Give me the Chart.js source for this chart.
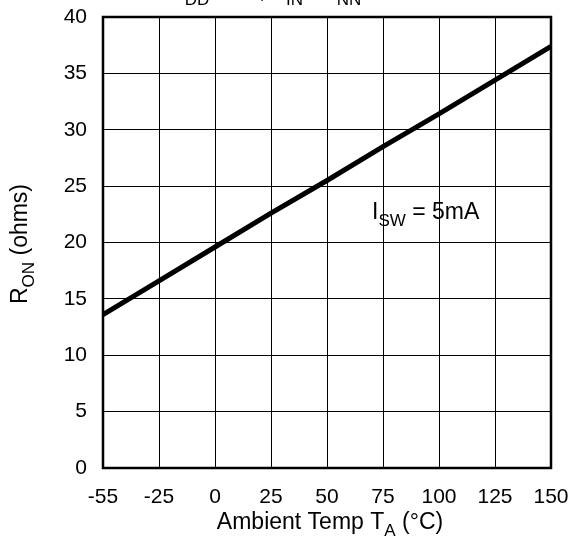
<!DOCTYPE html>
<html lang="en">
<head>
    <meta charset="UTF-8">
    <title>RON vs Temperature</title>
    <script src="https://cdn.jsdelivr.net/npm/chart.js"></script>
    <style>
        body { margin: 0; background: #fff; }
        #wrap { width: 576px; height: 544px; }
    </style>
</head>
<body>
<div id="wrap"><canvas id="ronChart" width="576" height="544"></canvas></div>

<script>
    // data
    const tempLabels = ['-55', '-25', '0', '25', '50', '75', '100', '125', '150'];
    const ronValues = [13.6, 16.6, 19.6, 22.6, 25.5, 28.5, 31.4, 34.4, 37.4];
    const yTicks = [0, 5, 10, 15, 20, 25, 30, 35, 40];

    const FONT = '"Liberation Sans", Arial, Helvetica, sans-serif';

    // draw text with subscript pieces: parts = [[text, isSub], ...]
    function drawParts(ctx, parts, x, y, size, align) {
        const subSize = Math.round(size * 0.75);
        let total = 0;
        parts.forEach(p => {
            ctx.font = (p[1] ? subSize : size) + 'px ' + FONT;
            total += ctx.measureText(p[0]).width;
        });
        let cx = align === 'center' ? x - total / 2 : x;
        ctx.textAlign = 'left';
        ctx.textBaseline = 'alphabetic';
        parts.forEach(p => {
            ctx.font = (p[1] ? subSize : size) + 'px ' + FONT;
            ctx.fillText(p[0], cx, p[1] ? y + 7 : y);
            cx += ctx.measureText(p[0]).width;
        });
    }

    const labelsPlugin = {
        id: 'labels',
        afterDraw(chart) {
            const ctx = chart.ctx;
            const a = chart.chartArea;
            ctx.save();
            ctx.fillStyle = '#000';

            // frame
            ctx.strokeStyle = '#000';
            ctx.lineWidth = 2.5;
            ctx.strokeRect(a.left, a.top, a.right - a.left, a.bottom - a.top);

            // clipped condition line at top
            drawParts(ctx, [['V', false], ['DD', true], [' = 5V, V', false], ['IN', true],
                ['= V', false], ['NN', true], [' = 5V', false]], 170, -2, 22, 'left');

            // annotation
            drawParts(ctx, [['I', false], ['SW', true], [' = 5mA', false]], 372, 219, 23, 'left');

            // x title
            drawParts(ctx, [['Ambient Temp T', false], ['A', true], [' (°C)', false]],
                330, 529, 23, 'center');

            // y title
            ctx.translate(27, 244);
            ctx.rotate(-Math.PI / 2);
            drawParts(ctx, [['R', false], ['ON', true], [' (ohms)', false]], 0, 0, 23, 'center');
            ctx.restore();
        }
    };

    const ronChart = new Chart(document.getElementById('ronChart'), {
        type: 'line',
        data: {
            labels: tempLabels,
            datasets: [{
                data: ronValues,
                borderColor: '#000',
                borderWidth: 5,
                pointRadius: 0,
                tension: 0,
                fill: false
            }]
        },
        options: {
            responsive: false,
            animation: false,
            layout: { padding: { left: 0, top: 17, right: 25, bottom: 0 } },
            plugins: { legend: { display: false }, tooltip: { enabled: false } },
            scales: {
                x: {
                    type: 'category',
                    offset: false,
                    grid: { color: '#000', lineWidth: 1, drawTicks: false },
                    border: { display: false },
                    ticks: {
                        color: '#000', padding: 17, maxRotation: 0, autoSkip: false,
                        font: { family: FONT, size: 21 }
                    },
                    afterFit(scale) {
                        scale.height = 76;
                        scale.paddingLeft = 0;
                        scale.paddingRight = 0;
                    }
                },
                y: {
                    min: 0,
                    max: 40,
                    afterBuildTicks(scale) { scale.ticks = yTicks.map(v => ({ value: v })); },
                    grid: { color: '#000', lineWidth: 1, drawTicks: false },
                    border: { display: false },
                    ticks: {
                        color: '#000', padding: 16,
                        font: { family: FONT, size: 21 }
                    },
                    afterFit(scale) {
                        scale.width = 103;
                        scale.paddingTop = 0;
                        scale.paddingBottom = 0;
                    }
                }
            }
        },
        plugins: [labelsPlugin]
    });
</script>
</body>
</html>
